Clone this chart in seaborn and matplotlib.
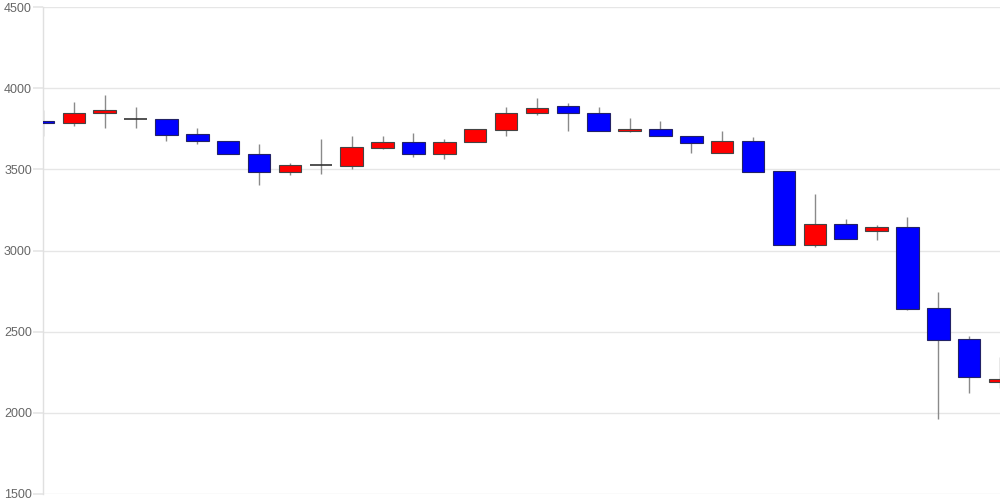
import matplotlib
matplotlib.use("Agg")
import matplotlib.pyplot as plt
import seaborn as sns
import pandas as pd

# OHLC values (one candle per session)
opens = [3797, 3784, 3845, 3808, 3810, 3718, 3676, 3596, 3484, 3527,
         3522, 3633, 3668, 3594, 3667, 3744, 3845, 3888, 3847, 3734,
         3748, 3705, 3603, 3676, 3488, 3032, 3165, 3122, 3143, 2644,
         2453, 2192]
highs = [3865, 3917, 3956, 3886, 3810, 3755, 3676, 3656, 3537, 3685,
         3705, 3705, 3726, 3685, 3748, 3886, 3937, 3907, 3886, 3816,
         3796, 3705, 3736, 3697, 3488, 3346, 3194, 3155, 3205, 2744,
         2473, 2346]
lows = [3705, 3767, 3757, 3757, 3676, 3654, 3594, 3405, 3463, 3473,
        3504, 3623, 3574, 3566, 3667, 3705, 3837, 3736, 3734, 3730,
        3703, 3599, 3603, 3484, 3032, 3024, 3073, 3065, 2633, 1960,
        2122, 2151]
closes = [3784, 3845, 3867, 3808, 3713, 3675, 3594, 3484, 3527, 3527,
          3636, 3668, 3594, 3668, 3748, 3847, 3878, 3845, 3734, 3748,
          3703, 3664, 3676, 3484, 3032, 3165, 3073, 3143, 2642, 2451,
          2221, 2210]
y_ticks = [1500, 2000, 2500, 3000, 3500, 4000, 4500]

df = pd.DataFrame({"open": opens, "high": highs, "low": lows, "close": closes})
df["idx"] = range(len(df))

sns.set_theme(style="white")
plt.rcParams["font.family"] = ["Liberation Sans", "DejaVu Sans"]

fig = plt.figure(figsize=(10, 5), dpi=100)
ax = fig.add_axes([0.043, 0.012, 0.957, 0.974])

# wicks
ax.vlines(df["idx"], df["low"], df["high"], color="#8a8a8a", linewidth=1, zorder=2)

# bodies
width = 0.73
for _, r in df.iterrows():
    lo = min(r["open"], r["close"])
    hi = max(r["open"], r["close"])
    if hi == lo:
        ax.hlines(lo, r["idx"] - width / 2, r["idx"] + width / 2,
                  color="#333333", linewidth=1.2, zorder=3)
        continue
    color = "#ff0000" if r["close"] > r["open"] else "#0000ff"
    edge = "#444444" if r["close"] > r["open"] else "#222266"
    ax.bar(r["idx"], hi - lo, bottom=lo, width=width, color=color,
           edgecolor=edge, linewidth=0.8, zorder=3)

ax.set_xlim(0, len(df) - 1)
ax.set_ylim(1500, 4500)
ax.set_yticks(y_ticks)
ax.set_yticklabels([str(t) for t in y_ticks])
ax.set_xticks([])
ax.grid(axis="y", color="#e6e6e6", linewidth=1)
ax.set_axisbelow(True)
for side in ["top", "right", "bottom"]:
    ax.spines[side].set_visible(False)
ax.spines["left"].set_color("#e0e0e0")
ax.spines["left"].set_linewidth(1)
ax.tick_params(axis="y", length=7, color="#e6e6e6", pad=1,
               labelsize=9, labelcolor="#666666", left=True)

fig.savefig("out.png", dpi=100)
